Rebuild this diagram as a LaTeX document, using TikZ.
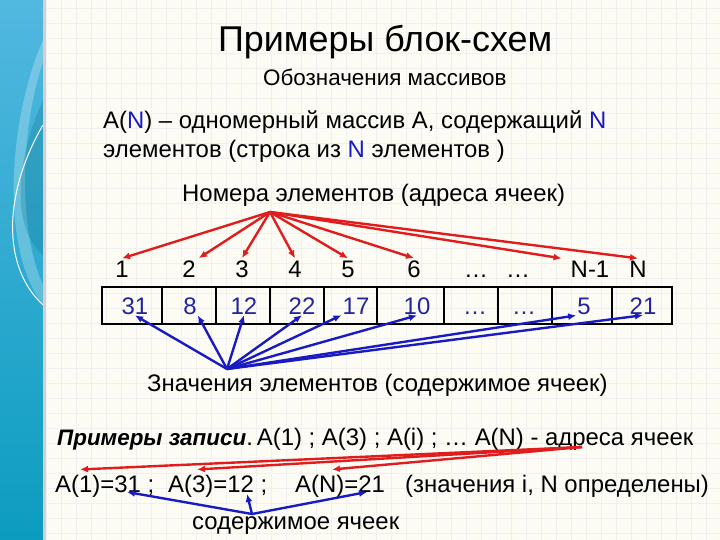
\documentclass[tikz,border=0pt]{standalone}
\usepackage{fontspec}
\setmainfont{Liberation Sans}
\usetikzlibrary{positioning,arrows.meta}
\definecolor{arrred}{HTML}{E01C1C}
\definecolor{arrblue}{HTML}{1A1AC4}
\definecolor{valblue}{HTML}{23239C}
\definecolor{stripA}{HTML}{52B8E0}
\definecolor{stripB}{HTML}{0C9CC0}
\definecolor{paper}{HTML}{FCFCF5}

\begin{document}
\begin{tikzpicture}[x=1bp, y=-1bp,
                    txt/.style={inner sep=0pt, anchor=base west, font=\fontsize{24}{28}\selectfont},
                    numnode/.style={inner sep=3pt, anchor=base, font=\fontsize{24}{28}\selectfont},
                    valnode/.style={inner sep=1pt, anchor=base, text=valblue, font=\fontsize{24}{28}\selectfont},
                    cell/.style={draw=black, line width=2pt, minimum height=37bp, inner sep=0pt},
                    redarrow/.style={-{Latex[length=8pt,width=7pt]}, draw=arrred, line width=2.4pt},
                    bluearrow/.style={-{Latex[length=8pt,width=7pt]}, draw=arrblue, line width=2.4pt},]
    \useasboundingbox (0,0) rectangle (720,540);
    % background
    \fill[paper] (0,0) rectangle (720,540);
    \foreach \gx in {46,61,...,720} \draw[black!6, line width=0.6pt] (\gx,0) -- (\gx,540);
    \foreach \gy in {8,23,...,540} \draw[black!6, line width=0.6pt] (46,\gy) -- (720,\gy);
    \shade[top color=stripA, bottom color=stripB] (0,0) rectangle (43,540);
    \fill[white, opacity=0.25] (43,40) .. controls (8,120) and (0,250) .. (43,305) -- (43,285) .. controls (18,230) and (20,130) .. (43,62) -- cycle;
    \fill[stripB!70!black, opacity=0.25] (43,100) .. controls (12,170) and (14,230) .. (43,255) -- cycle;
    \draw[white, line width=1pt] (43,125) .. controls (5,190) and (0,265) .. (43,305);
    \fill[black!18] (43,0) rectangle (46,540);
    % texts
    \node[txt, font=\fontsize{36}{42}\selectfont] (title) at (218,52) {Примеры блок-схем};
    \node[txt, font=\fontsize{22.5}{26}\selectfont] (sub) at (263,86) {Обозначения массивов};
    \node[txt] (def1) at (103,129) {A(\textcolor{arrblue}{N}) – одномерный массив A, содержащий \textcolor{arrblue}{N}};
    \node[txt] (def2) at (103,158) {элементов (строка из \textcolor{arrblue}{N} элементов )};
    \node[txt] (addr) at (182,202) {Номера элементов (адреса ячеек)};
    % numbers
    \node[numnode] (n1)  at (122,278) {1};
    \node[numnode] (n2)  at (189,278) {2};
    \node[numnode] (n3)  at (242,278) {3};
    \node[numnode] (n4)  at (295,278) {4};
    \node[numnode] (n5)  at (348,278) {5};
    \node[numnode] (n6)  at (414,278) {6};
    \node[numnode] (n7)  at (476,278) {\dots};
    \node[numnode] (n8)  at (518,278) {\dots};
    \node[numnode] (nN1) at (590,278) {N-1};
    \node[numnode] (nN)  at (638,278) {N};
    % cells
    \node[cell, minimum width=60bp] (c1)  at (132,305.5) {};
    \node[cell, minimum width=54bp] (c2)  at (189,305.5) {};
    \node[cell, minimum width=54bp] (c3)  at (243,305.5) {};
    \node[cell, minimum width=54bp] (c4)  at (297,305.5) {};
    \node[cell, minimum width=53bp] (c5)  at (350.5,305.5) {};
    \node[cell, minimum width=67bp] (c6)  at (410.5,305.5) {};
    \node[cell, minimum width=54bp] (c7)  at (471,305.5) {};
    \node[cell, minimum width=54bp] (c8)  at (525,305.5) {};
    \node[cell, minimum width=60bp] (c9)  at (582,305.5) {};
    \node[cell, minimum width=60bp] (c10) at (642,305.5) {};
    % values
    \node[valnode] (v1)  at (135,314) {31};
    \node[valnode] (v2)  at (190,314) {8};
    \node[valnode] (v3)  at (244,314) {12};
    \node[valnode] (v4)  at (302,314) {22};
    \node[valnode] (v5)  at (356,314) {17};
    \node[valnode] (v6)  at (417,314) {10};
    \node[valnode] (v7)  at (475,314) {\dots};
    \node[valnode] (v8)  at (524,314) {\dots};
    \node[valnode] (v9)  at (584,314) {5};
    \node[valnode] (v10) at (643,314) {21};
    \node[txt] (vals) at (147,391) {Значения элементов (содержимое ячеек)};
    \node[txt] (ex1) at (57,445) {{\fontsize{22.5}{26}\selectfont\bfseries\itshape Примеры записи}.\,A(1) ; A(3) ; A(i) ; … A(N) - адреса ячеек};
    \node[txt] (e1) at (55,492)  {A(1)=31 ;};
    \node[txt] (e2) at (168,492) {A(3)=12 ;};
    \node[txt] (e3) at (295,492) {A(N)=21};
    \node[txt] (e4) at (405,492) {(значения i, N определены)};
    \node[txt] (cont) at (192,529) {содержимое ячеек};
    \coordinate (rsrc) at (270,212);
    \coordinate (bsrc) at (227,369);
    \coordinate (r2src) at (582,447);
    \coordinate (b2src) at (252,514);
    % lines
    \draw[redarrow] (rsrc) -- (n1.north);
    \draw[redarrow] (rsrc) -- (n2.north east);
    \draw[redarrow] (rsrc) -- (n3.north);
    \draw[redarrow] (rsrc) -- (n4.north);
    \draw[redarrow] (rsrc) -- (n5.north);
    \draw[redarrow] (rsrc) -- (n6.north);
    \draw[redarrow] (rsrc) -- ([xshift=-6bp]nN1.north west);
    \draw[redarrow] (rsrc) -- (nN.north);
    \draw[bluearrow] (bsrc) -- (v1.south);
    \draw[bluearrow] (bsrc) -- (v2.south east);
    \draw[bluearrow] (bsrc) -- (v3.south);
    \draw[bluearrow] (bsrc) -- (v4.south);
    \draw[bluearrow] (bsrc) -- (v5.south west);
    \draw[bluearrow] (bsrc) -- (v6.south);
    \draw[bluearrow] (bsrc) -- (v9.south west);
    \draw[bluearrow] (bsrc) -- (v10.south);
    \draw[redarrow] (r2src) -- ([xshift=25bp, yshift=5bp]e1.north west);
    \draw[redarrow] (r2src) -- ([xshift=29bp, yshift=5bp]e2.north west);
    \draw[redarrow] (r2src) -- ([xshift=37bp, yshift=5bp]e3.north west);
    \draw[bluearrow] (b2src) -- ([xshift=72bp]e1.base west);
    \draw[bluearrow] (b2src) -- ([xshift=79bp, yshift=-2bp]e2.base west);
    \draw[bluearrow] (b2src) -- ([xshift=72bp]e3.base west);
\end{tikzpicture}
\end{document}
